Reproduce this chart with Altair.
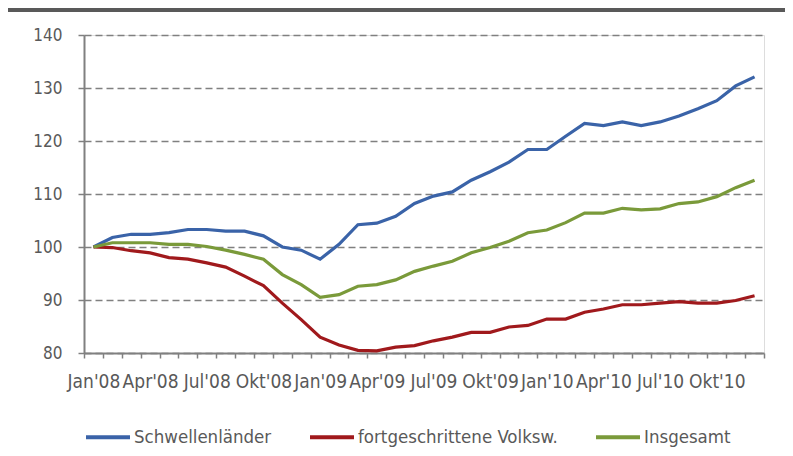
import json
import altair as alt
import pandas as pd

months_de = ["Jan", "Feb", "Mrz", "Apr", "Mai", "Jun", "Jul", "Aug", "Sep", "Okt", "Nov", "Dez"]
years = ["08", "09", "10"]
month_labels = [f"{m}'{y}" for y in years for m in months_de]
shown_labels = ["Jan'08", "Apr'08", "Jul'08", "Okt'08", "Jan'09", "Apr'09", "Jul'09",
                "Okt'09", "Jan'10", "Apr'10", "Jul'10", "Okt'10"]
y_ticks = [80, 90, 100, 110, 120, 130, 140]

series_names = ["Schwellenländer", "fortgeschrittene Volksw.", "Insgesamt"]
schwellen = [100.0, 101.8, 102.4, 102.4, 102.7, 103.3, 103.3, 103.0, 103.0, 102.1, 100.0, 99.4,
             97.7, 100.5, 104.2, 104.5, 105.8, 108.2, 109.6, 110.4, 112.6, 114.2, 116.0, 118.4,
             118.4, 120.9, 123.3, 122.9, 123.6, 122.9, 123.6, 124.7, 126.1, 127.6, 130.4, 132.1]
fortgeschritten = [100.0, 99.9, 99.3, 98.9, 98.0, 97.7, 97.0, 96.2, 94.5, 92.7, 89.4, 86.3,
                   83.0, 81.5, 80.5, 80.4, 81.1, 81.4, 82.3, 83.0, 83.9, 83.9, 84.9, 85.2,
                   86.4, 86.4, 87.7, 88.3, 89.1, 89.1, 89.4, 89.7, 89.4, 89.4, 89.9, 90.8]
insgesamt = [100.0, 100.8, 100.8, 100.8, 100.5, 100.5, 100.1, 99.4, 98.6, 97.7, 94.8, 92.9,
             90.5, 91.0, 92.6, 92.9, 93.8, 95.4, 96.4, 97.3, 98.9, 99.9, 101.1, 102.7,
             103.2, 104.6, 106.4, 106.4, 107.3, 107.0, 107.2, 108.2, 108.5, 109.5, 111.2, 112.6]
colors = ["#3A63A8", "#A0191C", "#7A9A3A"]

rows = []
for name, vals in zip(series_names, [schwellen, fortgeschritten, insgesamt]):
    for m, v in zip(month_labels, vals):
        rows.append({"Monat": m, "Wert": v, "Reihe": name})
df = pd.DataFrame(rows)

FONT = "DejaVu Sans Condensed, Liberation Sans Narrow, Liberation Sans, sans-serif"
GRAY = "#808080"
TEXT = "#595959"

label_expr = f"indexof({json.dumps(shown_labels)}, datum.value) >= 0 ? datum.value : ''"

lines = alt.Chart(df).mark_line(strokeWidth=3.2).encode(
    x=alt.X("Monat:O", sort=month_labels,
            scale=alt.Scale(type="band", paddingInner=0, paddingOuter=0),
            axis=alt.Axis(title=None, labelExpr=label_expr, tickBand="extent", labelAngle=0,
                          labelOverlap=False, labelBound=False, labelFlush=False,
                          tickSize=5, tickColor=GRAY, tickWidth=1.5,
                          domainColor=GRAY, domainWidth=2, labelPadding=14,
                          labelFontSize=19, labelColor=TEXT, labelFont=FONT, grid=False)),
    y=alt.Y("Wert:Q", scale=alt.Scale(domain=[80, 140], nice=False, zero=False),
            axis=alt.Axis(title=None, values=y_ticks, tickSize=6, tickColor=GRAY, tickWidth=1.5,
                          domainColor=GRAY, domainWidth=2, labelPadding=16,
                          labelFontSize=17, labelColor=TEXT, labelFont=FONT,
                          grid=True, gridColor=GRAY, gridDash=[7, 4], gridWidth=1.5)),
    color=alt.Color("Reihe:N", scale=alt.Scale(domain=series_names, range=colors),
                    legend=alt.Legend(title=None, orient="none", legendX=0, legendY=378,
                                      direction="horizontal", symbolType="stroke",
                                      symbolSize=1936, symbolStrokeWidth=4,
                                      labelFontSize=18.5, labelColor=TEXT, labelFont=FONT,
                                      columnPadding=30, labelOffset=2, padding=0,
                                      labelLimit=400)),
)

bar = alt.Chart(pd.DataFrame({"k": [0]})).mark_rect(color="#595959").encode(
    x=alt.value(-76), x2=alt.value(701), y=alt.value(-27), y2=alt.value(-23)
)

chart = alt.layer(bar, lines).properties(
    width=680, height=318,
    autosize=alt.AutoSizeParams(type="none"),
    padding={"left": 76, "top": 27, "right": 21, "bottom": 95},
).configure_view(stroke=None).configure(font=FONT, background="white")

chart.save("out.html", embed_options={"renderer": "svg", "actions": False})
